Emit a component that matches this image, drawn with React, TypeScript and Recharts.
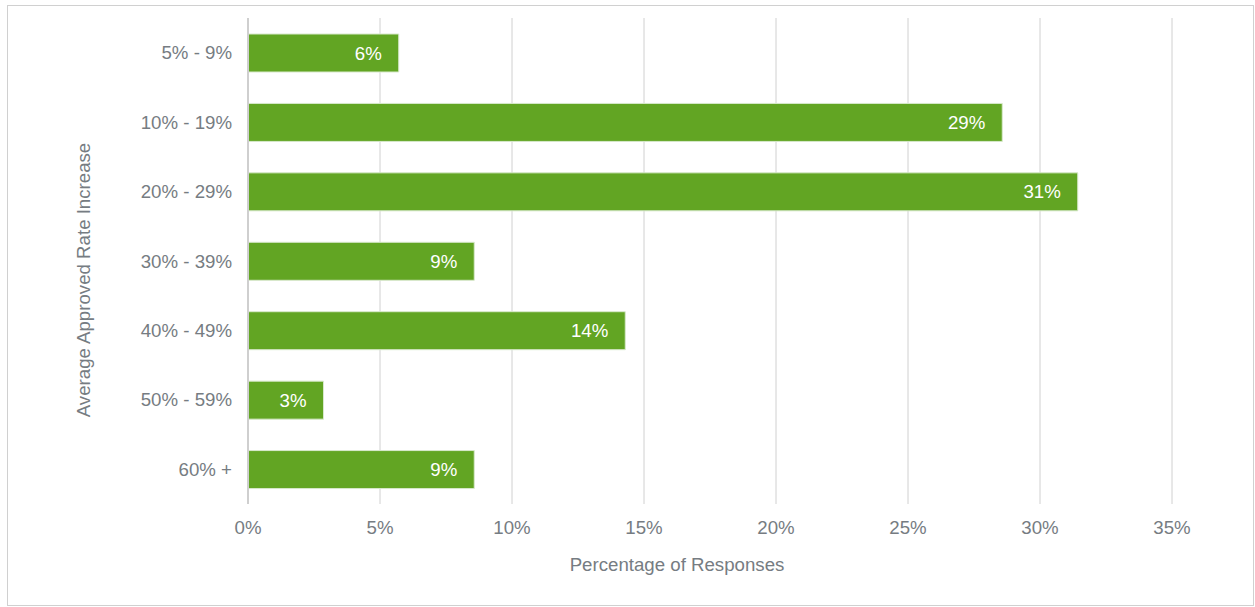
import React from 'react';
import { BarChart, Bar, XAxis, YAxis, CartesianGrid, LabelList } from 'recharts';

const categories = ['5% - 9%', '10% - 19%', '20% - 29%', '30% - 39%', '40% - 49%', '50% - 59%', '60% +'];
const responses = [5.71, 28.57, 31.43, 8.57, 14.29, 2.86, 8.57];
const xTicks = [0, 5, 10, 15, 20, 25, 30, 35];

const data = categories.map((name, i) => ({ name, value: responses[i] }));

const textColor = '#767c82';
const font = '"Liberation Sans", Arial, sans-serif';
const fs = 18.67;

const App: React.FC = () => {
  return (
    <div
      style={{
        position: 'absolute',
        left: 7,
        top: 5,
        width: 1247,
        height: 601,
        boxSizing: 'border-box',
        border: '1px solid #d0d0d0',
        background: '#fff',
        fontFamily: font,
      }}
    >
      <BarChart
        width={1245}
        height={599}
        data={data}
        layout="vertical"
        margin={{ top: 12, right: 81, left: 0, bottom: 21 }}
        barSize={38}
      >
        <CartesianGrid horizontal={false} stroke="#d0d0d0" />
        <XAxis
          type="number"
          domain={[0, 35]}
          ticks={xTicks}
          tickFormatter={(v: number) => `${v}%`}
          axisLine={false}
          tickLine={false}
          tickSize={0}
          tickMargin={17}
          height={80}
          tick={{ fill: textColor, fontSize: fs, fontFamily: font }}
          label={{
            content: (props: any) => {
              const vb = props.viewBox;
              return (
                <text
                  x={vb.x + vb.width / 2 - 33}
                  y={vb.y + 67}
                  textAnchor="middle"
                  fill={textColor}
                  fontSize={fs}
                  fontFamily={font}
                >
                  Percentage of Responses
                </text>
              );
            },
          }}
        />
        <YAxis
          type="category"
          dataKey="name"
          width={240}
          axisLine={{ stroke: '#cfcfcf', strokeWidth: 2 }}
          tickLine={false}
          tickSize={0}
          tickMargin={16}
          tick={{ fill: textColor, fontSize: fs, fontFamily: font }}
          label={{
            content: (props: any) => {
              const vb = props.viewBox;
              const cx = vb.x + 75;
              const cy = vb.y + vb.height / 2 + 19;
              return (
                <text
                  x={cx}
                  y={cy}
                  transform={`rotate(-90, ${cx}, ${cy})`}
                  textAnchor="middle"
                  dominantBaseline="central"
                  fill={textColor}
                  fontSize={fs}
                  fontFamily={font}
                >
                  Average Approved Rate Increase
                </text>
              );
            },
          }}
        />
        <Bar dataKey="value" fill="#62a523" stroke="#d8e9cc" strokeWidth={1} isAnimationActive={false}>
          <LabelList
            dataKey="value"
            position="insideRight"
            offset={17}
            formatter={(v: number) => `${Math.round(v)}%`}
            fill="#ffffff"
            fontSize={fs}
            fontFamily={font}
          />
        </Bar>
      </BarChart>
    </div>
  );
};

export default App;
